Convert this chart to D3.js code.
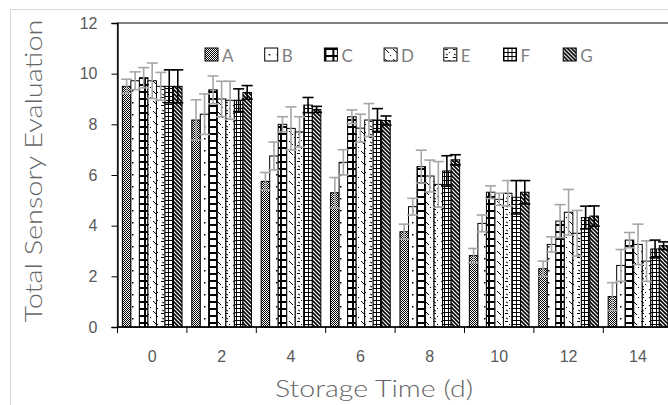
<!DOCTYPE html>
<html lang="en">
<head>
  <meta charset="UTF-8" />
  <title>Total Sensory Evaluation</title>
  <style>
    html, body { margin: 0; padding: 0; background: #fff; }
    svg { display: block; font-family: Lato, "Open Sans", sans-serif; }
    .tick text { fill: #595959; font-size: 16px; }
    .axis-title { fill: #666; font-size: 24px; font-weight: 300; }
    .legend text { fill: #7f7f7f; font-size: 17px; }
  </style>
</head>
<body>
  <svg width="668" height="405"></svg>
  <script src="https://d3js.org/d3.v7.min.js"></script>
  <script>
    const days = ["0", "2", "4", "6", "8", "10", "12", "14"];
    const seriesNames = ["A", "B", "C", "D", "E", "F", "G"];
    const yTicks = [0, 2, 4, 6, 8, 10, 12];

    // mean scores per series, one value per storage day
    const valA = [9.5, 8.17, 5.75, 5.3, 3.76, 2.82, 2.3, 1.2];
    const valB = [9.72, 8.4, 6.75, 6.5, 4.75, 4.09, 3.26, 2.43];
    const valC = [9.84, 9.36, 8.0, 8.3, 6.33, 5.32, 4.18, 3.43];
    const valD = [9.72, 9.0, 7.84, 7.85, 5.96, 5.04, 4.53, 3.26];
    const valE = [9.5, 8.95, 7.7, 8.17, 5.63, 5.28, 3.7, 2.6];
    const valF = [9.5, 8.95, 8.76, 8.17, 6.16, 5.12, 4.32, 3.08];
    const valG = [9.5, 9.26, 8.59, 8.15, 6.6, 5.32, 4.38, 3.21];

    // error bar half-lengths
    const errA = [0.28, 0.8, 0.35, 0.6, 0.3, 0.28, 0.3, 0.55];
    const errB = [0.35, 0.8, 0.55, 0.5, 0.33, 0.33, 0.3, 0.63];
    const errC = [0.4, 0.55, 0.3, 0.27, 0.65, 0.25, 0.65, 0.3];
    const errD = [0.7, 0.7, 0.85, 0.55, 0.63, 0.24, 0.9, 0.8];
    const errE = [0.55, 0.75, 0.6, 0.65, 0.9, 0.5, 0.9, 0.8];
    const errF = [0.65, 0.45, 0.3, 0.45, 0.6, 0.66, 0.45, 0.35];
    const errG = [0.65, 0.27, 0.12, 0.18, 0.2, 0.46, 0.4, 0.15];

    const values = [valA, valB, valC, valD, valE, valF, valG];
    const errors = [errA, errB, errC, errD, errE, errF, errG];
    const errColor = ["#a6a6a6", "#a6a6a6", "#a6a6a6", "#a6a6a6", "#a6a6a6", "#000", "#000"];

    const svg = d3.select("svg");

    // outer chart frame
    svg.append("rect")
      .attr("x", 10.5).attr("y", 9.5)
      .attr("width", 700).attr("height", 420)
      .attr("fill", "#fff").attr("stroke", "#d9d9d9");

    // fill patterns, one per series
    const defs = svg.append("defs");
    function pattern(id, w, h) {
      const p = defs.append("pattern")
        .attr("id", id)
        .attr("patternUnits", "userSpaceOnUse")
        .attr("width", w).attr("height", h);
      p.append("rect").attr("width", w).attr("height", h).attr("fill", "#fff");
      return p;
    }
    let p;
    p = pattern("pA", 2, 2);
    p.append("rect").attr("x", 0).attr("y", 0).attr("width", 1).attr("height", 1).attr("fill", "#000");
    p.append("rect").attr("x", 1).attr("y", 1).attr("width", 1).attr("height", 1).attr("fill", "#000");

    p = pattern("pB", 8, 12);
    p.append("rect").attr("x", 4).attr("y", 6).attr("width", 1.5).attr("height", 1.5).attr("fill", "#000");

    p = pattern("pC", 8, 7);
    p.append("rect").attr("x", 0).attr("y", 0).attr("width", 8).attr("height", 2).attr("fill", "#000");
    p.append("rect").attr("x", 0).attr("y", 0).attr("width", 2).attr("height", 7).attr("fill", "#000");

    p = pattern("pD", 8, 10);
    p.append("path").attr("d", "M1,1 L5,5").attr("stroke", "#000").attr("stroke-width", 1);
    p.append("rect").attr("x", 6).attr("y", 7).attr("width", 1).attr("height", 1).attr("fill", "#000");

    p = pattern("pE", 8, 8);
    p.append("path").attr("d", "M1,1.5 L4,1.5").attr("stroke", "#000").attr("stroke-width", 1);
    p.append("rect").attr("x", 5).attr("y", 4).attr("width", 1).attr("height", 1).attr("fill", "#000");
    p.append("path").attr("d", "M2,6 L4,7").attr("stroke", "#000").attr("stroke-width", 1);

    p = pattern("pF", 4, 4);
    p.append("path").attr("d", "M0,0.5 H4 M0.5,0 V4").attr("stroke", "#000").attr("stroke-width", 1);

    p = pattern("pG", 4, 4);
    p.append("path").attr("d", "M-1,-1 L5,5 M-1,3 L1,5 M3,-1 L5,1")
      .attr("stroke", "#000").attr("stroke-width", 1.6);

    const fills = seriesNames.map(s => `url(#p${s})`);

    const x = d3.scaleBand()
      .domain(days)
      .range([117.5, 672.7])
      .paddingInner(0.14)
      .paddingOuter(0.07);

    const xs = d3.scaleBand()
      .domain(seriesNames)
      .range([0, x.bandwidth()]);

    const y = d3.scaleLinear()
      .domain([0, 12])
      .range([327, 23]);

    // plot area border (top + right run off the frame)
    svg.append("rect")
      .attr("x", 117.5).attr("y", y(12))
      .attr("width", 672.7 - 117.5).attr("height", y(0) - y(12))
      .attr("fill", "none").attr("stroke", "#404040").attr("stroke-width", 1.3);

    // bars
    const rows = [];
    seriesNames.forEach((s, si) => {
      days.forEach((d, di) => {
        rows.push({ s, si, d, v: values[si][di], e: errors[si][di] });
      });
    });

    svg.append("g")
      .selectAll("rect")
      .data(rows)
      .join("rect")
      .attr("x", r => x(r.d) + xs(r.s))
      .attr("y", r => y(r.v))
      .attr("width", xs.bandwidth())
      .attr("height", r => y(0) - y(r.v))
      .attr("fill", r => fills[r.si])
      .attr("stroke", "#000")
      .attr("stroke-width", 1);

    // error bars
    const capW = 11;
    const eb = svg.append("g")
      .selectAll("g")
      .data(rows)
      .join("g")
      .attr("stroke", r => errColor[r.si])
      .attr("stroke-width", 1.6);
    eb.append("line")
      .attr("x1", r => x(r.d) + xs(r.s) + xs.bandwidth() / 2)
      .attr("x2", r => x(r.d) + xs(r.s) + xs.bandwidth() / 2)
      .attr("y1", r => y(r.v - r.e))
      .attr("y2", r => y(r.v + r.e));
    eb.append("line")
      .attr("x1", r => x(r.d) + xs(r.s) + xs.bandwidth() / 2 - capW / 2)
      .attr("x2", r => x(r.d) + xs(r.s) + xs.bandwidth() / 2 + capW / 2)
      .attr("y1", r => y(r.v + r.e))
      .attr("y2", r => y(r.v + r.e));
    eb.append("line")
      .attr("x1", r => x(r.d) + xs(r.s) + xs.bandwidth() / 2 - capW / 2)
      .attr("x2", r => x(r.d) + xs(r.s) + xs.bandwidth() / 2 + capW / 2)
      .attr("y1", r => y(r.v - r.e))
      .attr("y2", r => y(r.v - r.e));

    // y axis
    const yAxis = svg.append("g")
      .attr("transform", "translate(117.5,0)")
      .call(d3.axisLeft(y).tickValues(yTicks).tickSize(6).tickPadding(14));
    yAxis.select(".domain").attr("stroke", "#000").attr("stroke-width", 1.3);
    yAxis.selectAll(".tick line").attr("stroke", "#000");

    // x axis: labels at group centres, ticks at group boundaries
    const xAxis = svg.append("g")
      .attr("transform", `translate(0,${y(0)})`)
      .call(d3.axisBottom(x).tickSize(0).tickPadding(24));
    xAxis.select(".domain").remove();
    svg.append("line")
      .attr("x1", 117.5).attr("x2", 672.7)
      .attr("y1", y(0)).attr("y2", y(0))
      .attr("stroke", "#000").attr("stroke-width", 1.3);
    svg.append("g")
      .selectAll("line")
      .data(d3.range(days.length + 1))
      .join("line")
      .attr("x1", i => x.range()[0] + i * x.step())
      .attr("x2", i => x.range()[0] + i * x.step())
      .attr("y1", y(0)).attr("y2", y(0) + 6)
      .attr("stroke", "#000");

    // axis titles
    svg.append("text")
      .attr("class", "axis-title")
      .attr("x", 374).attr("y", 397)
      .attr("text-anchor", "middle")
      .attr("textLength", 198)
      .attr("lengthAdjust", "spacingAndGlyphs")
      .text("Storage Time (d)");

    svg.append("text")
      .attr("class", "axis-title")
      .attr("transform", "translate(42,171) rotate(-90)")
      .attr("text-anchor", "middle")
      .attr("textLength", 303)
      .attr("lengthAdjust", "spacingAndGlyphs")
      .text("Total Sensory Evaluation");

    // legend
    const legend = svg.append("g")
      .attr("class", "legend")
      .selectAll("g")
      .data(seriesNames)
      .join("g")
      .attr("transform", (s, i) => `translate(${205 + i * 59.7},48)`);
    legend.append("rect")
      .attr("width", 13).attr("height", 13)
      .attr("fill", (s, i) => fills[i])
      .attr("stroke", "#000");
    legend.append("text")
      .attr("x", 17).attr("y", 13.5)
      .text(s => s);
  </script>
</body>
</html>
